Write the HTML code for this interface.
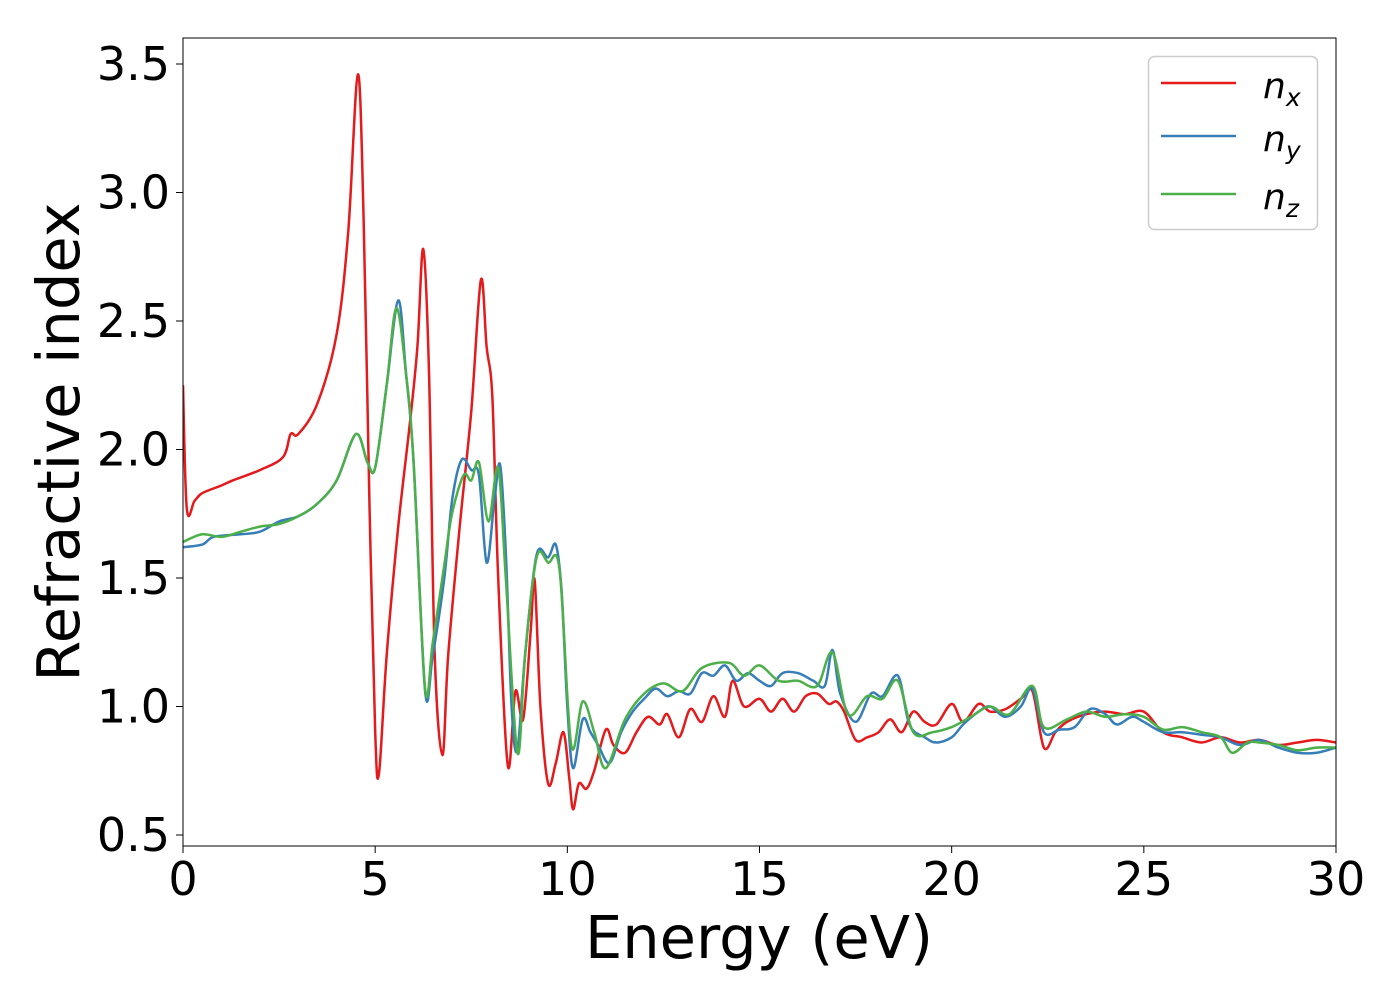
<!DOCTYPE html>
<html><head><meta charset="utf-8"><style>
body{margin:0;background:#fff;}
svg text{font-family:"DejaVu Sans","Liberation Sans",sans-serif;fill:#000;}
</style></head><body>
<svg id="chart" width="1400" height="1000" viewBox="0 0 1400 1000" xmlns="http://www.w3.org/2000/svg">
<rect width="1400" height="1000" fill="#fff"/>
<g id="series"></g>
<rect x="183" y="38" width="1153" height="808" fill="none" stroke="#000" stroke-width="1"/>
<g id="xticks"></g>
<g id="yticks"></g>
<text x="759" y="958" font-size="59" text-anchor="middle">Energy (eV)</text>
<text transform="translate(79,442) rotate(-90)" font-size="59" text-anchor="middle">Refractive index</text>
<g>
<rect x="1148.5" y="56.5" width="169" height="173" rx="6" fill="#fff" stroke="#ccc" stroke-width="1.5"/>
<line x1="1161" y1="83" x2="1236" y2="83" stroke="#e41a1c" stroke-width="2.5"/>
<text x="1263" y="98" font-size="36" font-style="italic">n<tspan font-size="25" dy="8">x</tspan></text>
<line x1="1161" y1="136" x2="1236" y2="136" stroke="#377eb8" stroke-width="2.5"/>
<text x="1263" y="151" font-size="36" font-style="italic">n<tspan font-size="25" dy="8">y</tspan></text>
<line x1="1161" y1="194" x2="1236" y2="194" stroke="#4daf4a" stroke-width="2.5"/>
<text x="1263" y="209" font-size="36" font-style="italic">n<tspan font-size="25" dy="8">z</tspan></text>
</g>
</svg>
<script>
const xTicks=[0,5,10,15,20,25,30];
const yTicks=[0.5,1.0,1.5,2.0,2.5,3.0,3.5];
const yTickLabels=["0.5","1.0","1.5","2.0","2.5","3.0","3.5"];
const nxE=[0,0.1,0.3,0.5,1.0,1.3,2.0,2.6,2.8,3.0,3.5,4.0,4.3,4.55,4.7,4.85,5.0,5.1,5.3,5.6,5.9,6.1,6.25,6.4,6.55,6.75,6.9,7.2,7.5,7.75,7.9,8.05,8.2,8.45,8.65,8.85,9.05,9.15,9.3,9.5,9.7,9.9,10.05,10.15,10.3,10.5,10.7,11.0,11.2,11.5,11.8,12.1,12.4,12.6,12.9,13.2,13.5,13.8,14.1,14.3,14.6,15,15.3,15.6,15.9,16.2,16.5,16.8,17.0,17.2,17.5,17.8,18.1,18.4,18.7,19.0,19.3,19.6,20,20.3,20.7,21,21.4,21.8,22.1,22.4,22.7,23,23.5,24,24.5,25,25.5,26,26.5,27,27.5,28,28.5,29,29.5,30];
const nxV=[2.25,1.77,1.80,1.83,1.86,1.88,1.92,1.97,2.06,2.06,2.18,2.45,2.85,3.46,2.9,1.8,0.9,0.74,1.2,1.7,2.1,2.4,2.78,2.3,1.2,0.81,1.2,1.7,2.15,2.66,2.4,2.2,1.5,0.77,1.06,0.95,1.3,1.49,1.0,0.70,0.78,0.90,0.72,0.6,0.70,0.68,0.75,0.91,0.85,0.82,0.90,0.96,0.93,0.97,0.88,0.99,0.94,1.04,0.96,1.10,1.00,1.03,0.98,1.03,0.98,1.04,1.05,1.01,1.02,0.98,0.87,0.88,0.90,0.95,0.90,0.98,0.94,0.93,1.01,0.94,1.01,0.98,0.99,1.03,1.06,0.84,0.90,0.94,0.97,0.98,0.97,0.98,0.90,0.88,0.86,0.88,0.86,0.87,0.85,0.86,0.87,0.86];
const nyE=[0,0.5,0.8,1.5,2,2.5,3,3.5,4,4.5,4.8,5,5.3,5.6,5.8,6.0,6.3,6.5,6.8,7.0,7.25,7.5,7.7,7.9,8.1,8.25,8.4,8.55,8.7,8.9,9.2,9.5,9.7,9.85,10.0,10.15,10.4,10.6,10.8,11.1,11.4,11.7,12,12.3,12.6,12.9,13.2,13.5,13.8,14.1,14.4,14.7,15,15.3,15.6,16,16.4,16.7,16.9,17.1,17.5,17.9,18.2,18.6,18.9,19.3,19.6,20,20.3,20.7,21,21.4,21.8,22.1,22.4,22.8,23.2,23.6,24,24.3,24.7,25,25.5,26,26.5,27,27.5,28,28.5,29,29.5,30];
const nyV=[1.62,1.63,1.66,1.67,1.68,1.72,1.74,1.79,1.88,2.06,1.95,1.93,2.25,2.58,2.30,1.95,1.06,1.20,1.50,1.80,1.96,1.92,1.90,1.56,1.80,1.94,1.60,1.00,0.83,1.20,1.59,1.58,1.63,1.45,1.00,0.76,0.95,0.90,0.85,0.78,0.90,0.98,1.03,1.07,1.04,1.06,1.05,1.13,1.12,1.16,1.10,1.13,1.10,1.08,1.13,1.13,1.10,1.08,1.22,1.05,0.94,1.05,1.04,1.12,0.93,0.88,0.86,0.88,0.93,0.98,1.00,0.96,1.00,1.07,0.90,0.91,0.92,0.99,0.97,0.93,0.96,0.94,0.90,0.90,0.89,0.88,0.85,0.87,0.84,0.82,0.82,0.84];
const nzE=[0,0.5,1,1.5,2,2.5,3,3.5,4,4.5,4.8,5,5.3,5.55,5.8,6.0,6.3,6.5,6.8,7.0,7.3,7.5,7.7,7.95,8.2,8.4,8.7,8.9,9.2,9.5,9.8,10.1,10.4,10.7,11.0,11.5,12,12.5,13,13.5,14.2,14.6,15,15.5,16,16.5,16.9,17.3,17.8,18.2,18.6,19,19.5,20,20.5,21,21.5,22.1,22.4,23,23.5,24,24.5,25,25.5,26,26.5,27,27.3,27.7,28,28.5,29,29.5,30];
const nzV=[1.64,1.67,1.66,1.68,1.70,1.71,1.74,1.79,1.88,2.06,1.95,1.93,2.25,2.55,2.30,1.95,1.07,1.25,1.55,1.75,1.90,1.88,1.95,1.72,1.93,1.50,0.82,1.20,1.58,1.56,1.53,0.85,1.02,0.90,0.76,0.95,1.05,1.09,1.06,1.15,1.17,1.12,1.16,1.10,1.10,1.08,1.21,0.97,1.04,1.03,1.10,0.90,0.90,0.92,0.96,1.00,0.97,1.08,0.92,0.95,0.98,0.96,0.97,0.96,0.91,0.92,0.90,0.88,0.82,0.86,0.86,0.85,0.83,0.84,0.84];
const X0=183,X1=1336,XMIN=0,XMAX=30;
const Y0=64,Y1=835,YTOP=3.5,YBOT=0.5;
function xs(v){return X0+(v-XMIN)/(XMAX-XMIN)*(X1-X0);}
function ys(v){return Y1-(v-YBOT)/(YTOP-YBOT)*(Y1-Y0);}
const NS="http://www.w3.org/2000/svg";
function pathFor(E,V){
  const p=E.map((e,i)=>[xs(e),ys(V[i])]);
  let d="M"+p[0][0].toFixed(1)+","+p[0][1].toFixed(1);
  for(let i=0;i<p.length-1;i++){
    const a=p[Math.max(0,i-1)],b=p[i],c=p[i+1],n=p[Math.min(p.length-1,i+2)];
    const c1=[b[0]+(c[0]-a[0])/6,b[1]+(c[1]-a[1])/6];
    const c2=[c[0]-(n[0]-b[0])/6,c[1]-(n[1]-b[1])/6];
    d+="C"+c1[0].toFixed(1)+","+c1[1].toFixed(1)+" "+c2[0].toFixed(1)+","+c2[1].toFixed(1)+" "+c[0].toFixed(1)+","+c[1].toFixed(1);
  }
  return d;
}
const sg=document.getElementById("series");
const clip=document.createElementNS(NS,"clipPath");clip.setAttribute("id","cp");
const cr=document.createElementNS(NS,"rect");cr.setAttribute("x",X0);cr.setAttribute("y",38);cr.setAttribute("width",X1-X0);cr.setAttribute("height",808);
clip.appendChild(cr);sg.appendChild(clip);
[[nxE,nxV,"#e41a1c","line-nx"],[nyE,nyV,"#377eb8","line-ny"],[nzE,nzV,"#4daf4a","line-nz"]].forEach(s=>{
  const el=document.createElementNS(NS,"path");
  el.setAttribute("d",pathFor(s[0],s[1]));
  el.setAttribute("fill","none");el.setAttribute("stroke",s[2]);el.setAttribute("stroke-width","2.5");
  el.setAttribute("clip-path","url(#cp)");
  
  
  sg.appendChild(el);
});
const xg=document.getElementById("xticks");
xTicks.forEach(t=>{
  const l=document.createElementNS(NS,"line");
  l.setAttribute("x1",xs(t));l.setAttribute("x2",xs(t));l.setAttribute("y1",846);l.setAttribute("y2",853);l.setAttribute("stroke","#000");
  
  
  xg.appendChild(l);
  const tx=document.createElementNS(NS,"text");
  tx.setAttribute("x",xs(t));tx.setAttribute("y",895);tx.setAttribute("font-size","46");tx.setAttribute("text-anchor","middle");
  tx.textContent=String(t);
  
  
  xg.appendChild(tx);
});
const yg=document.getElementById("yticks");
yTicks.forEach((t,i)=>{
  const l=document.createElementNS(NS,"line");
  l.setAttribute("x1",176);l.setAttribute("x2",183);l.setAttribute("y1",ys(t));l.setAttribute("y2",ys(t));l.setAttribute("stroke","#000");
  
  
  yg.appendChild(l);
  const tx=document.createElementNS(NS,"text");
  tx.setAttribute("x",170);tx.setAttribute("y",ys(t)+16);tx.setAttribute("font-size","46");tx.setAttribute("text-anchor","end");
  tx.textContent=yTickLabels[i];
  
  
  yg.appendChild(tx);
});
</script>
</body></html>
